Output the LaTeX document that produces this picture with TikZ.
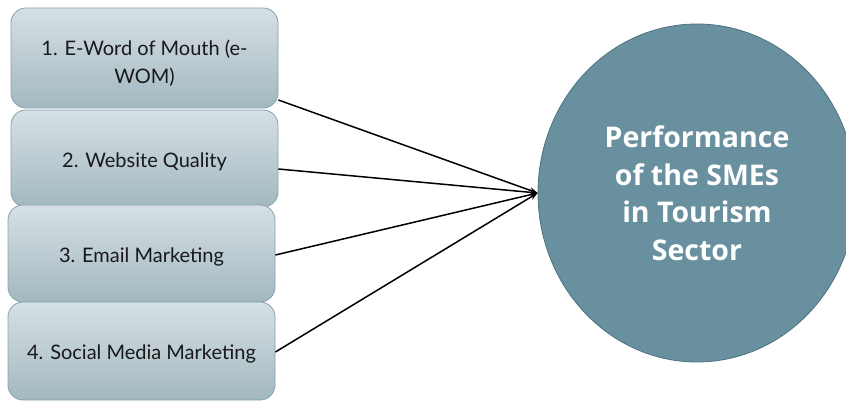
\documentclass[tikz,border=0pt]{standalone}
\usepackage{fontspec}
\setmainfont{Lato}
\newfontfamily\circfont{Open Sans}
\usetikzlibrary{shapes.geometric,arrows.meta}
\definecolor{boxtop}{HTML}{D6E0E4}
\definecolor{boxbot}{HTML}{A3B8C0}
\definecolor{boxline}{HTML}{82A2AF}
\definecolor{circfill}{HTML}{68909F}
\definecolor{circline}{HTML}{4E7280}
\tikzset{
  factor/.style={rectangle, rounded corners=15pt, draw=boxline, line width=0.8pt,
    top color=boxtop, bottom color=boxbot, minimum width=267pt, inner sep=0pt,
    align=center, font=\fontsize{20}{28}\selectfont, text=black!90,
    execute at begin node={\rule{0pt}{#1}}},
  factor/.default=21pt,
  outcome/.style={ellipse, draw=circline, line width=0.8pt, fill=circfill,
    minimum width=318pt, minimum height=338pt, inner sep=0pt, align=center,
    text=white, font=\circfont\fontsize{28.5}{37.5}\selectfont\bfseries},
  link/.style={line width=1.5pt, -{Stealth[length=8pt,width=6pt]}}
}
\begin{document}
\begin{tikzpicture}[x=1pt,y=-1pt]
\useasboundingbox (0,0) rectangle (846,401);
\clip (0,0) rectangle (846,401);
\node[factor=54pt, minimum height=100pt] (b1) at (144.5,58) {1. E-Word of Mouth (e-\\WOM)};
\node[factor, minimum height=97pt] (b2) at (144.5,158.5) {2. Website Quality};
\node[factor, minimum height=97pt] (b3) at (141.5,253.5) {3. Email Marketing};
\node[factor, minimum height=98pt] (b4) at (141.5,351) {4. Social Media Marketing};
\node[outcome] (p) at (697,193) {Performance\\of the SMEs\\in Tourism\\Sector};
\draw[link] ([yshift=-42pt]b1.east) -- (p.west);
\draw[link] ([yshift=-10.5pt]b2.east) -- (p.west);
\draw[link] ([yshift=-1.5pt]b3.east) -- (p.west);
\draw[link] ([yshift=-1pt]b4.east) -- (p.west);
\end{tikzpicture}
\end{document}
